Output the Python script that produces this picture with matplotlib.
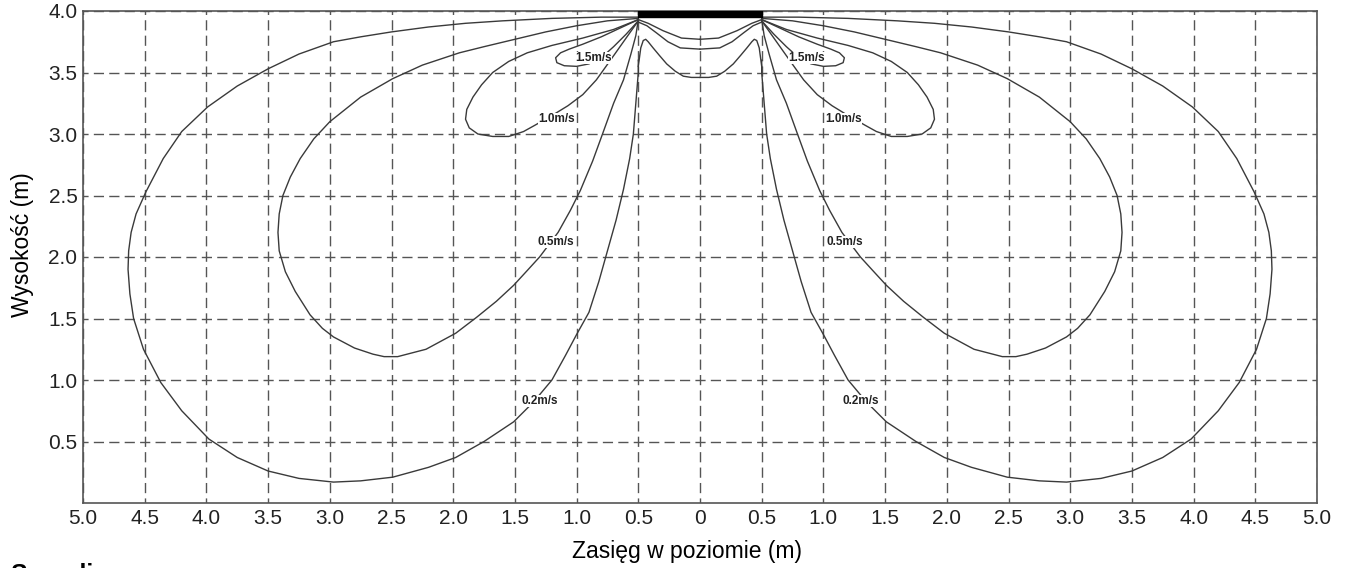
import matplotlib.pyplot as plt

plt.rcParams['font.family'] = ['Liberation Sans', 'DejaVu Sans']
plt.rcParams['lines.scale_dashes'] = False

# isovels of the right jet (m); the left jet is the mirror image
v02_x = [0.5, 0.8, 1.2, 1.6, 1.9, 2.2, 2.5, 2.75, 2.97, 3.25, 3.5, 3.75, 3.99, 4.2, 4.35,
         4.49, 4.57, 4.61, 4.63, 4.635, 4.62, 4.59, 4.51, 4.37, 4.2, 3.98, 3.75, 3.5, 3.25,
         2.97, 2.75, 2.49, 2.2, 1.98, 1.75, 1.51, 1.35, 1.2, 1.09, 1.0, 0.9, 0.82, 0.75,
         0.68, 0.62, 0.57, 0.54, 0.52, 0.5, 0.5]
v02_y = [3.95, 3.95, 3.94, 3.92, 3.90, 3.87, 3.83, 3.79, 3.75, 3.65, 3.53, 3.39, 3.22, 3.02,
         2.80, 2.53, 2.35, 2.20, 2.05, 1.90, 1.70, 1.50, 1.25, 0.98, 0.75, 0.52, 0.37, 0.26,
         0.20, 0.17, 0.18, 0.21, 0.29, 0.37, 0.50, 0.66, 0.82, 1.0, 1.2, 1.37, 1.55, 1.8,
         2.05, 2.3, 2.55, 2.8, 3.0, 3.25, 3.5, 3.6]

v05_x = [0.5, 0.75, 1.0, 1.25, 1.5, 1.75, 1.95, 2.25, 2.49, 2.75, 3.0, 3.13, 3.24, 3.32,
         3.38, 3.41, 3.42, 3.41, 3.36, 3.28, 3.16, 3.06, 2.97, 2.8, 2.65, 2.56, 2.45, 2.22,
         1.98, 1.81, 1.65, 1.51, 1.4, 1.3, 1.15, 1.05, 0.97, 0.87, 0.79, 0.7, 0.62, 0.56,
         0.52, 0.5]
v05_y = [3.94, 3.92, 3.88, 3.83, 3.77, 3.71, 3.66, 3.56, 3.45, 3.30, 3.10, 2.96, 2.80, 2.65,
         2.50, 2.35, 2.20, 2.05, 1.88, 1.72, 1.53, 1.42, 1.35, 1.26, 1.21, 1.19, 1.19, 1.25,
         1.38, 1.51, 1.64, 1.77, 1.89, 2.0, 2.2, 2.38, 2.54, 2.78, 3.0, 3.25, 3.44, 3.65,
         3.8, 3.93]

v10_x = [0.5, 0.7, 0.95, 1.2, 1.4, 1.55, 1.68, 1.77, 1.84, 1.89, 1.9, 1.87, 1.8, 1.68,
         1.55, 1.43, 1.34, 1.2, 1.07, 0.95, 0.84, 0.74, 0.62, 0.5]
v10_y = [3.93, 3.85, 3.78, 3.72, 3.66, 3.59, 3.50, 3.40, 3.30, 3.20, 3.12, 3.05, 3.0, 2.98,
         2.98, 3.02, 3.07, 3.15, 3.23, 3.32, 3.44, 3.58, 3.75, 3.92]

v15_x = [0.5, 0.65, 0.8, 0.95, 1.06, 1.13, 1.17, 1.16, 1.1, 1.0, 0.9, 0.8, 0.7, 0.6, 0.5]
v15_y = [3.93, 3.86, 3.79, 3.73, 3.69, 3.66, 3.62, 3.58, 3.555, 3.55, 3.57, 3.62, 3.71,
         3.81, 3.92]

# curves between the two jets (half, from the axis to the slot edge)
mid1_x = [0.0, 0.15, 0.3, 0.42, 0.5]
mid1_y = [3.77, 3.78, 3.84, 3.90, 3.93]
mid2_x = [0.0, 0.16, 0.26, 0.35, 0.43, 0.5]
mid2_y = [3.69, 3.70, 3.75, 3.82, 3.88, 3.91]
mid3_x = [0.0, 0.07, 0.135, 0.2, 0.27, 0.33, 0.38, 0.42, 0.44, 0.46, 0.48, 0.5]
mid3_y = [3.46, 3.46, 3.47, 3.51, 3.57, 3.64, 3.70, 3.75, 3.77, 3.76, 3.70, 3.55]

# slot outlet
slot_x = [-0.5, 0.5]
slot_bottom = 3.95
slot_top = 4.0

labels = ['1.5m/s', '1.0m/s', '0.5m/s', '0.2m/s']
label_x = [0.86, 1.16, 1.17, 1.30]
label_y = [3.62, 3.12, 2.12, 0.83]

x_ticks = [-5.0, -4.5, -4.0, -3.5, -3.0, -2.5, -2.0, -1.5, -1.0, -0.5, 0.0,
           0.5, 1.0, 1.5, 2.0, 2.5, 3.0, 3.5, 4.0, 4.5, 5.0]
x_tick_labels = ['5.0', '4.5', '4.0', '3.5', '3.0', '2.5', '2.0', '1.5', '1.0', '0.5', '0',
                 '0.5', '1.0', '1.5', '2.0', '2.5', '3.0', '3.5', '4.0', '4.5', '5.0']
y_ticks = [0.5, 1.0, 1.5, 2.0, 2.5, 3.0, 3.5, 4.0]
y_tick_labels = ['0.5', '1.0', '1.5', '2.0', '2.5', '3.0', '3.5', '4.0']

fig = plt.figure(figsize=(13.5, 5.68), dpi=100)
ax = fig.add_axes([83 / 1350, 1 - 503 / 568, 1234 / 1350, 492 / 568])

line_kw = dict(color='#3a3a3a', linewidth=1.0)
for xs, ys in [(v02_x, v02_y), (v05_x, v05_y), (v10_x, v10_y), (v15_x, v15_y),
               (mid1_x, mid1_y), (mid2_x, mid2_y), (mid3_x, mid3_y)]:
    ax.plot(xs, ys, **line_kw)
    ax.plot([-v for v in xs], ys, **line_kw)

ax.fill_between(slot_x, slot_bottom, slot_top, color='black', zorder=5)

for txt, lx, ly in zip(labels, label_x, label_y):
    for sx in (lx, -lx):
        ax.text(sx, ly, txt, fontsize=8.5, fontweight='bold', ha='center', va='center',
                color='#222222', bbox=dict(facecolor='white', edgecolor='none', pad=0.2),
                zorder=4)

ax.set_xlim(-5, 5)
ax.set_ylim(0, 4)
ax.set_xticks(x_ticks)
ax.set_xticklabels(x_tick_labels)
ax.set_yticks(y_ticks)
ax.set_yticklabels(y_tick_labels)
ax.tick_params(length=0, labelsize=15, colors='#222222', pad=4)

# dashes: 4 per grid cell, centred on the crossings
cell_pt = 1234 / 20 * 72 / 100
on = cell_pt / 4 * 0.66
off = cell_pt / 4 - on
ax.grid(True, color='#555555', linewidth=1.0, linestyle=(on / 2, (on, off)))
ax.set_axisbelow(True)

for sp in ax.spines.values():
    sp.set_color('#555555')
    sp.set_linewidth(1.2)

ax.set_xlabel('Zasięg w poziomie (m)', fontsize=16.5)
ax.xaxis.set_label_coords((687 - 83) / 1234, -0.075)
ax.set_ylabel('Wysokość (m)', fontsize=16.5)
ax.yaxis.set_label_coords(-0.04, (503 - 245) / 492)

fig.text(10 / 1350, -14 / 568, 'Szczelina', fontsize=18, fontweight='bold', va='baseline')

fig.savefig('out.png', dpi=100)
